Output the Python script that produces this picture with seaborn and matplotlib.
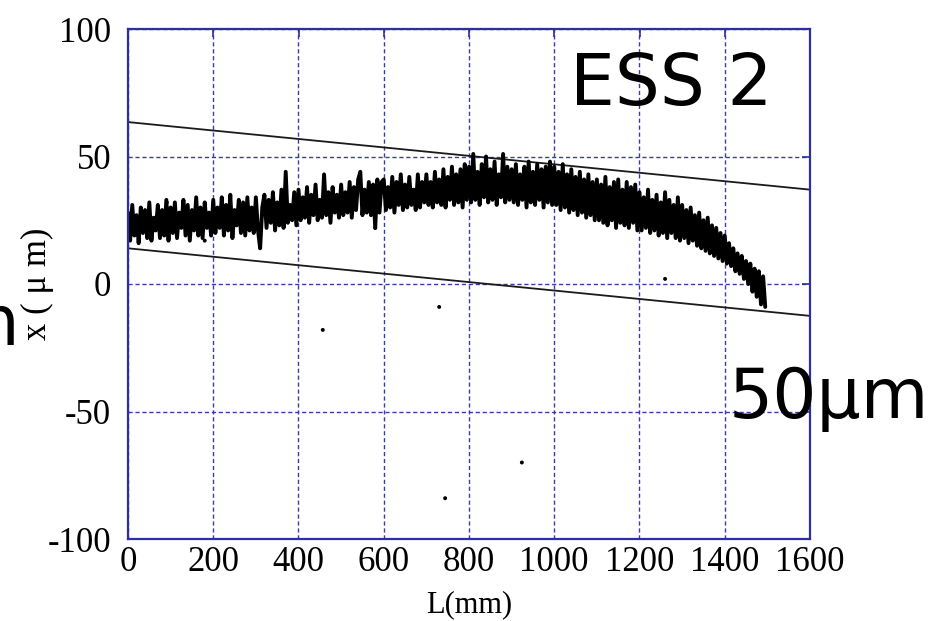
import numpy as np
import pandas as pd
import matplotlib
matplotlib.use("Agg")
import matplotlib.pyplot as plt
import seaborn as sns

step_mm = 5
profile_um = [
    28, 17, 31, 19, 27, 16, 30, 20, 29, 18, 32, 17, 26, 21, 31, 18, 29, 19, 33, 17,
    30, 20, 32, 18, 28, 22, 33, 19, 31, 17, 29, 21, 34, 19, 30, 18, 32, 22, 28, 19,
    33, 20, 30, 22, 34, 19, 31, 21, 35, 18, 29, 23, 33, 20, 32, 19, 34, 21, 30, 20,
    34, 21, 14, 30, 35, 22, 33, 24, 36, 21, 32, 23, 37, 22, 44, 24, 31, 25, 36, 23,
    37, 25, 34, 26, 38, 24, 35, 27, 39, 25, 33, 26, 43, 27, 36, 24, 38, 28, 35, 26,
    39, 27, 36, 28, 40, 26, 38, 29, 41, 44, 27, 37, 28, 40, 27, 39, 22, 41, 28, 40,
    41, 29, 38, 30, 42, 28, 40, 31, 43, 29, 39, 30, 42, 31, 37, 29, 43, 30, 40, 32,
    43, 31, 40, 30, 44, 32, 41, 31, 45, 30, 42, 33, 46, 31, 43, 32, 45, 30, 47, 33,
    46, 32, 51, 33, 44, 31, 47, 34, 50, 32, 45, 33, 48, 31, 43, 34, 51, 32, 46, 33,
    45, 32, 47, 31, 43, 33, 46, 30, 48, 32, 44, 31, 47, 33, 45, 30, 46, 32, 48, 31,
    46, 31, 44, 29, 47, 30, 43, 28, 45, 29, 42, 27, 44, 28, 41, 26, 43, 27, 40, 25,
    41, 25, 39, 24, 42, 23, 38, 25, 40, 22, 41, 24, 37, 23, 40, 22, 38, 24, 39, 21,
    36, 21, 34, 22, 37, 20, 33, 21, 35, 19, 32, 20, 36, 18, 33, 20, 31, 18, 34, 17,
    31, 18, 29, 16, 30, 17, 27, 15, 28, 14, 25, 13, 26, 12, 23, 11, 22, 10, 20, 9,
    19, 8, 16, 7, 14, 5, 12, 4, 11, 2, 9, 0, 8, -3, 6, -5, 5, -8, 3, -9,
]

# stray points
stray_L = [91, 180, 457, 580, 730, 744, 924, 1260]
stray_x = [32, 17, -18, 22, -9, -84, -70, 2]

# tolerance envelope (two straight lines)
env_L = [0, 1600]
env_upper = [63.5, 37]
env_lower = [14, -12.5]

xticks = [0, 200, 400, 600, 800, 1000, 1200, 1400, 1600]
yticks = [-100, -50, 0, 50, 100]
ytick_labels = ["-100", "-50", "0", "50", "100"]

prof = pd.DataFrame({"L": np.arange(len(profile_um)) * step_mm, "x": profile_um})
stray = pd.DataFrame({"L": stray_L, "x": stray_x})

sns.set_style("white")
plt.rcParams["font.family"] = ["Liberation Serif", "DejaVu Serif"]
plt.rcParams["text.color"] = "black"

blue = "#2e2e9e"
fig = plt.figure(figsize=(9.37, 6.21), dpi=100)
ax = fig.add_axes([128 / 937, 82 / 621, 682 / 937, 510 / 621])

ax.plot(env_L, env_upper, color="#1a1a1a", lw=1.3)
ax.plot(env_L, env_lower, color="#1a1a1a", lw=1.3)
sns.lineplot(data=prof, x="L", y="x", estimator=None, sort=False,
             color="black", lw=2.8, ax=ax)
sns.scatterplot(data=stray, x="L", y="x", color="black", s=8,
                edgecolor="none", ax=ax)

ax.set_xlim(0, 1600)
ax.set_ylim(-100, 100)
ax.set_xticks(xticks)
ax.set_yticks(yticks)
ax.set_yticklabels(ytick_labels)
ax.grid(True, color="#3a3aaa", lw=1.0, linestyle=(0, (3, 2)))
ax.set_axisbelow(True)
for s in ax.spines.values():
    s.set_color(blue)
    s.set_linewidth(1.6)
ax.tick_params(direction="in", length=6, width=1.2, color=blue,
               top=True, right=True, labelsize=25, labelcolor="black")
ax.tick_params(axis="x", pad=5)
ax.tick_params(axis="y", pad=12)

ax.set_xlabel("L(mm)", fontsize=22, color="black")
ax.set_ylabel("x ( μ m)", fontsize=25, color="black")
ax.xaxis.set_label_coords(0.5, -0.1)
ax.yaxis.set_label_coords(-0.108, 0.5)

# slide overlay text
fig.text(570 / 937, 1 - 105 / 621, "ESS 2", fontsize=51, va="baseline",
         ha="left", family="DejaVu Sans", color="black")
fig.text(729 / 937, 1 - 418 / 621, "50μm", fontsize=50, va="baseline",
         ha="left", family="DejaVu Sans", color="black")
fig.text(19 / 937, 1 - 345 / 621, "m", fontsize=50, va="baseline",
         ha="right", family="DejaVu Sans", color="black")

fig.savefig("out.png", dpi=100, facecolor="white")
